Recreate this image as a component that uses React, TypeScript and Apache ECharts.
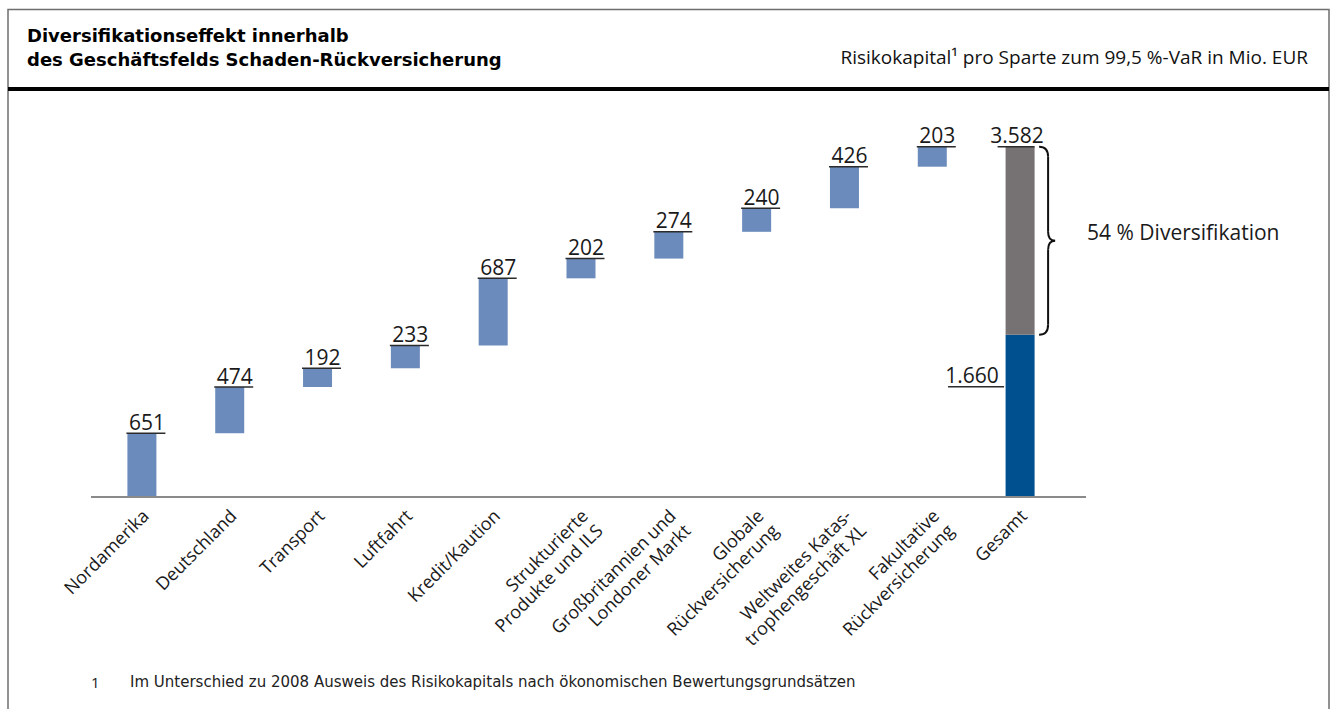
import React, { useEffect, useRef } from 'react';
import * as echarts from 'echarts';

const categories = [
  'Nordamerika',
  'Deutschland',
  'Transport',
  'Luftfahrt',
  'Kredit/Kaution',
  'Strukturierte\nProdukte und ILS',
  'Großbritannien und\nLondoner Markt',
  'Globale\nRückversicherung',
  'Weltweites Katas-\ntrophengeschäft XL',
  'Fakultative\nRückversicherung',
  'Gesamt',
];
const segmentValues = [651, 474, 192, 233, 687, 202, 274, 240, 426, 203];
const totalValue = 3582;
const netValue = 1660;
const diversificationText = '54 % Diversifikation';
const titleLines = ['Diversifikationseffekt innerhalb', 'des Geschäftsfelds Schaden-Rückversicherung'];
const subtitleText = 'Risikokapital¹ pro Sparte zum 99,5 %-VaR in Mio. EUR';
const footnoteNumber = '1';
const footnoteText = 'Im Unterschied zu 2008 Ausweis des Risikokapitals nach ökonomischen Bewertungsgrundsätzen';

const FONT = '"Open Sans", "Noto Sans", sans-serif';
const TITLE_FONT = '"DejaVu Sans", "Open Sans", sans-serif';
const BAR = '#6a8bbb';
const NAVY = '#00508f';
const GREY = '#767172';
const INK = '#1a1a1a';

const fmt = (v: number) => String(v).replace(/\B(?=(\d{3})+(?!\d))/g, '.');

// derived stacks
const bases: number[] = [];
{
  let run = 0;
  for (const v of segmentValues) {
    bases.push(run);
    run += v;
  }
}
const totalIndex = categories.length - 1;
const baseData: any[] = [...bases, 0];
const segData: any[] = [...segmentValues, { value: netValue, itemStyle: { color: NAVY } }];
const divData: any[] = [...segmentValues.map(() => '-'), totalValue - netValue];
// label items: [categoryIndex, value, kind] kind 0=segment, 1=total, 2=net
const labelData: number[][] = [
  ...segmentValues.map((v, i) => [i, bases[i] + v, 0]),
  [totalIndex, totalValue, 1],
  [totalIndex, netValue, 2],
];
const labelTexts: string[] = [...segmentValues.map(fmt), fmt(totalValue), fmt(netValue)];

export default function App() {
  const ref = useRef<HTMLDivElement>(null);
  useEffect(() => {
    if (!ref.current) return;
    const chart = echarts.init(ref.current, undefined, { renderer: 'svg' });
    const option: any = {
      animation: false,
      backgroundColor: '#ffffff',
      grid: { left: 98, right: 271, top: 106, bottom: 212 },
      xAxis: {
        type: 'category',
        data: categories,
        axisLine: { show: false },
        axisTick: { show: false },
        axisLabel: {
          interval: 0,
          rotate: 45,
          margin: 3.5,
          verticalAlign: 'top',
          padding: [0, 6, 0, 0],
          fontSize: 18,
          lineHeight: 21,
          color: INK,
          fontFamily: FONT,
        },
      },
      yAxis: {
        type: 'value',
        min: 0,
        max: 4000,
        show: false,
        splitLine: { show: false },
      },
      series: [
        {
          type: 'bar',
          stack: 'w',
          data: baseData,
          barWidth: 29,
          itemStyle: { color: 'transparent' },
          silent: true,
        },
        {
          type: 'bar',
          stack: 'w',
          data: segData,
          barWidth: 29,
          itemStyle: { color: BAR },
        },
        {
          type: 'bar',
          stack: 'w',
          data: divData,
          barWidth: 29,
          itemStyle: { color: GREY },
        },
        {
          type: 'custom',
          z: 5,
          data: labelData,
          encode: { x: 0, y: 1 },
          renderItem: (params: any, api: any) => {
            const i = api.value(0);
            const v = api.value(1);
            const kind = api.value(2);
            const [cx, cy] = api.coord([i, v]);
            const half = 14.5;
            let x1: number, x2: number, tx: number;
            let ly = cy;
            if (kind === 0) {
              x1 = cx - half - 1;
              x2 = cx + half + 9;
              tx = cx + 5;
            } else if (kind === 1) {
              x1 = cx - half - 8;
              x2 = cx + half;
              tx = cx - 3;
            } else {
              ly = cy + 52;
              x1 = cx - 72;
              x2 = cx - 16;
              tx = cx - 48;
            }
            return {
              type: 'group',
              children: [
                {
                  type: 'line',
                  shape: { x1, y1: ly, x2, y2: ly },
                  style: { stroke: '#2b2b2b', lineWidth: 1.5 },
                },
                {
                  type: 'text',
                  style: {
                    x: tx,
                    y: ly - 1,
                    text: labelTexts[params.dataIndex],
                    fill: INK,
                    font: `21px ${FONT}`,
                    align: 'center',
                    verticalAlign: 'bottom',
                  },
                },
              ],
            };
          },
        },
        {
          type: 'custom',
          z: 4,
          data: [[totalIndex, totalValue, netValue]],
          encode: { x: 0, y: 1 },
          renderItem: (params: any, api: any) => {
            const i = api.value(0);
            const [cx, yTop] = api.coord([i, api.value(1)]);
            const yBot = api.coord([i, api.value(2)])[1];
            const y0 = api.coord([0, 0])[1];
            const cs = params.coordSys;
            const mid = (yTop + yBot) / 2;
            const xa = cx + 19;
            const xv = cx + 28;
            const xp = cx + 35;
            const st = { stroke: '#111', lineWidth: 2, fill: 'none' };
            return {
              type: 'group',
              children: [
                {
                  type: 'line',
                  shape: { x1: cs.x - 7, y1: y0, x2: cs.x + cs.width + 22, y2: y0 },
                  style: { stroke: '#8a8a8a', lineWidth: 2 },
                  z2: -1,
                },
                { type: 'bezierCurve', shape: { x1: xa, y1: yTop, cpx1: xv, cpy1: yTop, x2: xv, y2: yTop + 10 }, style: st },
                { type: 'line', shape: { x1: xv, y1: yTop + 10, x2: xv, y2: mid - 9 }, style: st },
                { type: 'bezierCurve', shape: { x1: xv, y1: mid - 9, cpx1: xv, cpy1: mid, x2: xp, y2: mid }, style: st },
                { type: 'bezierCurve', shape: { x1: xp, y1: mid, cpx1: xv, cpy1: mid, x2: xv, y2: mid + 9 }, style: st },
                { type: 'line', shape: { x1: xv, y1: mid + 9, x2: xv, y2: yBot - 10 }, style: st },
                { type: 'bezierCurve', shape: { x1: xv, y1: yBot - 10, cpx1: xv, cpy1: yBot, x2: xa, y2: yBot }, style: st },
                {
                  type: 'text',
                  style: {
                    x: xp + 32,
                    y: mid - 9,
                    text: diversificationText,
                    fill: INK,
                    font: `21px ${FONT}`,
                    align: 'left',
                    verticalAlign: 'middle',
                  },
                },
              ],
            };
          },
        },
      ],
      graphic: [
        {
          type: 'polyline',
          shape: { points: [[8, 709], [8, 9.5], [1329, 9.5], [1329, 709]] },
          style: { stroke: '#6e6e6e', lineWidth: 1.5, fill: 'none' },
          silent: true,
        },
        { type: 'rect', shape: { x: 8, y: 87, width: 1321, height: 4 }, style: { fill: '#000' }, silent: true },
        {
          type: 'text',
          left: 27,
          top: 26,
          style: { text: titleLines[0], font: `bold 18px ${TITLE_FONT}`, fill: '#000' },
        },
        {
          type: 'text',
          left: 27,
          top: 50,
          style: { text: titleLines[1], font: `bold 18px ${TITLE_FONT}`, fill: '#000' },
        },
        {
          type: 'text',
          right: 1335 - 1308,
          top: 47,
          style: { text: subtitleText, font: `19px ${FONT}`, fill: '#111', align: 'right' },
        },
        {
          type: 'text',
          left: 91,
          top: 674,
          style: { text: footnoteNumber, font: `15px ${FONT}`, fill: '#222' },
        },
        {
          type: 'text',
          left: 130,
          top: 674,
          style: { text: footnoteText, font: `15px "DejaVu Sans", ${FONT}`, fill: '#222' },
        },
      ],
    };
    chart.setOption(option);
    return () => chart.dispose();
  }, []);
  return (
    <div
      ref={ref}
      style={{ position: 'fixed', left: 0, top: 0, width: 1335, height: 709, background: '#fff' }}
    />
  );
}
